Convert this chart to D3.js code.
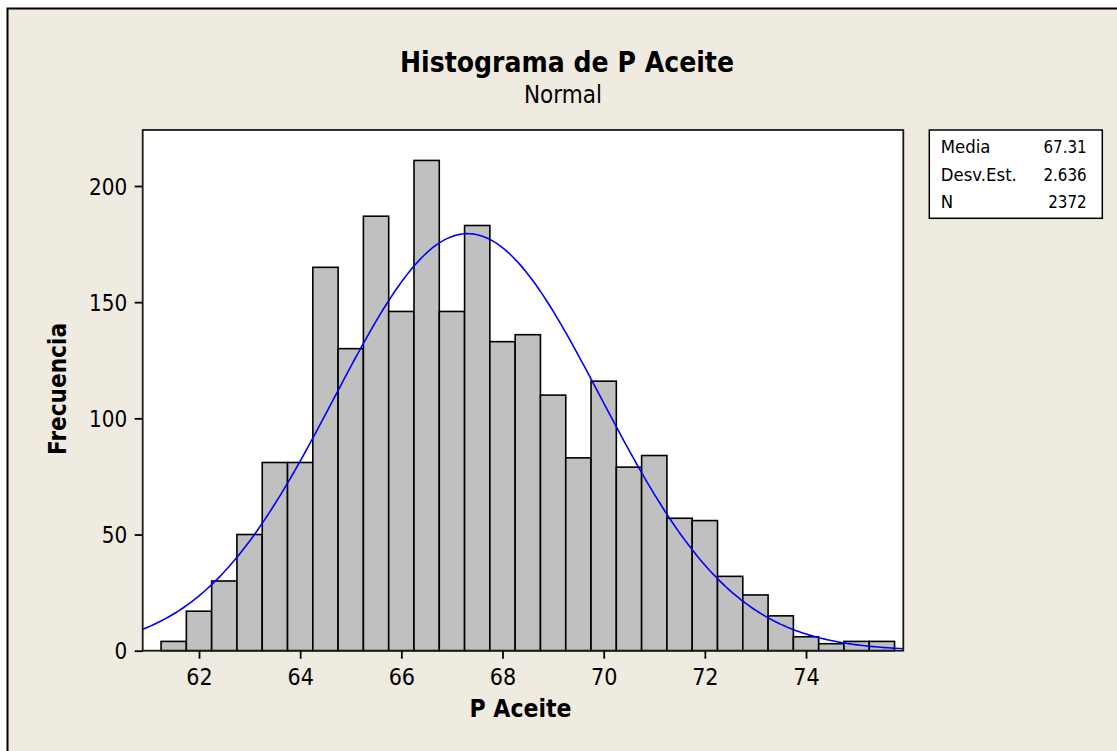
<!DOCTYPE html>
<html>
<head>
<meta charset="utf-8">
<script src="https://cdn.jsdelivr.net/npm/d3@7"></script>
<style>
  html, body { margin: 0; padding: 0; background: #ffffff; }
  svg { display: block; }
  text { font-family: "DejaVu Sans", Verdana, sans-serif; fill: #000; }
</style>
</head>
<body>
<svg id="chart" width="1117" height="751"></svg>
<script>
// Histogram bins of P Aceite (bin centres, width 0.5) and their frequencies
const binCenters = [61.5, 62, 62.5, 63, 63.5, 64, 64.5, 65, 65.5, 66, 66.5, 67, 67.5, 68,
                    68.5, 69, 69.5, 70, 70.5, 71, 71.5, 72, 72.5, 73, 73.5, 74, 74.5, 75, 75.5];
const counts = [4, 17, 30, 50, 81, 81, 165, 130, 187, 146, 211, 146, 183, 133,
                136, 110, 83, 116, 79, 84, 57, 56, 32, 24, 15, 6, 3, 4, 4];
const binWidth = 0.5;

// Summary statistics shown in the side box
const statLabels = ["Media", "Desv.Est.", "N"];
const statValues = ["67.31", "2.636", "2372"];
const mean = 67.31, sd = 2.636, n = 2372;

// Axis ticks
const xTicks = [62, 64, 66, 68, 70, 72, 74];
const yTicks = [0, 50, 100, 150, 200];

const titleText = "Histograma de P Aceite";
const subtitleText = "Normal";
const xLabel = "P Aceite";
const yLabel = "Frecuencia";

// ---- layout ----
const svg = d3.select("#chart");
const plot = { left: 142.7, right: 903.3, top: 130, bottom: 650.7 };
const bg = "#EFEBE1";

// compress a text's glyphs horizontally to a given width
function fitWidth(sel, width) {
  sel.attr("textLength", width).attr("lengthAdjust", "spacingAndGlyphs");
}
function squeeze(sel, ratio) {
  sel.each(function () {
    const w = this.getComputedTextLength();
    d3.select(this).attr("textLength", w * ratio).attr("lengthAdjust", "spacingAndGlyphs");
  });
}

// outer frame
svg.append("rect")
  .attr("x", 7.5).attr("y", 8.5).attr("width", 1140).attr("height", 780)
  .attr("fill", bg).attr("stroke", "#000").attr("stroke-width", 2);

const x = d3.scaleLinear().domain([60.887, 75.923]).range([plot.left, plot.right]);
const y = d3.scaleLinear().domain([0, 224.1]).range([plot.bottom, plot.top]);

// plot background
svg.append("rect")
  .attr("x", plot.left).attr("y", plot.top)
  .attr("width", plot.right - plot.left).attr("height", plot.bottom - plot.top)
  .attr("fill", "#ffffff");

svg.append("defs").append("clipPath").attr("id", "plotClip")
  .append("rect")
  .attr("x", plot.left).attr("y", plot.top)
  .attr("width", plot.right - plot.left).attr("height", plot.bottom - plot.top);

// bars
svg.append("g").selectAll("rect")
  .data(binCenters.map((c, i) => ({ c, v: counts[i] })))
  .join("rect")
  .attr("x", d => x(d.c - binWidth / 2))
  .attr("width", d => x(d.c + binWidth / 2) - x(d.c - binWidth / 2))
  .attr("y", d => y(d.v))
  .attr("height", d => y(0) - y(d.v))
  .attr("fill", "#C0C0C0")
  .attr("stroke", "#000")
  .attr("stroke-width", 1.6);

// fitted normal curve scaled to counts
const scaleFactor = n * binWidth / (sd * Math.sqrt(2 * Math.PI));
const curvePts = d3.range(0, 301).map(i => {
  const xv = x.domain()[0] + (x.domain()[1] - x.domain()[0]) * i / 300;
  const z = (xv - mean) / sd;
  return [xv, scaleFactor * Math.exp(-0.5 * z * z)];
});
svg.append("path")
  .datum(curvePts)
  .attr("clip-path", "url(#plotClip)")
  .attr("fill", "none")
  .attr("stroke", "#0000FF")
  .attr("stroke-width", 1.6)
  .attr("d", d3.line().x(d => x(d[0])).y(d => y(d[1])));

// plot border
svg.append("rect")
  .attr("x", plot.left).attr("y", plot.top)
  .attr("width", plot.right - plot.left).attr("height", plot.bottom - plot.top)
  .attr("fill", "none").attr("stroke", "#1a1a1a").attr("stroke-width", 1.8);

// axes
const xAxis = svg.append("g")
  .attr("transform", `translate(0,${plot.bottom})`)
  .call(d3.axisBottom(x).tickValues(xTicks).tickSize(8).tickPadding(8).tickFormat(d3.format("d")));
const yAxis = svg.append("g")
  .attr("transform", `translate(${plot.left},0)`)
  .call(d3.axisLeft(y).tickValues(yTicks).tickSize(8).tickPadding(8).tickFormat(d3.format("d")));

[xAxis, yAxis].forEach(g => {
  g.select(".domain").remove();
  g.selectAll(".tick line").attr("stroke", "#000").attr("stroke-width", 1.8);
  g.selectAll(".tick text").attr("font-size", 23).attr("font-family", "DejaVu Sans").attr("fill", "#000");
});
xAxis.selectAll(".tick text").attr("dy", null).attr("y", 34);
yAxis.selectAll(".tick text").attr("dy", "0.35em").attr("x", -15.5);
squeeze(xAxis.selectAll(".tick text"), 0.9);
squeeze(yAxis.selectAll(".tick text"), 0.87);

// titles
svg.append("text")
  .attr("x", 567).attr("y", 71.7).attr("text-anchor", "middle")
  .attr("font-size", 27.5).attr("font-weight", "bold")
  .text(titleText).call(fitWidth, 334);
svg.append("text")
  .attr("x", 563).attr("y", 102.7).attr("text-anchor", "middle")
  .attr("font-size", 24)
  .text(subtitleText).call(fitWidth, 78);
svg.append("text")
  .attr("x", 520.5).attr("y", 717.3).attr("text-anchor", "middle")
  .attr("font-size", 24.5).attr("font-weight", "bold")
  .text(xLabel).call(fitWidth, 102);
svg.append("text")
  .attr("transform", "translate(65.5,389) rotate(-90)")
  .attr("text-anchor", "middle")
  .attr("font-size", 25.5).attr("font-weight", "bold")
  .text(yLabel).call(fitWidth, 132);

// statistics box
const box = { x: 929.3, y: 130, w: 173, h: 88.3 };
svg.append("rect")
  .attr("x", box.x).attr("y", box.y).attr("width", box.w).attr("height", box.h)
  .attr("fill", "#ffffff").attr("stroke", "#000").attr("stroke-width", 1.5);
const rows = svg.append("g").selectAll("g")
  .data(statLabels.map((l, i) => ({ l, v: statValues[i] })))
  .join("g")
  .attr("transform", (d, i) => `translate(0,${153.3 + i * 27.5})`);
rows.append("text")
  .attr("x", 940.7).attr("font-size", 18)
  .text(d => d.l).call(squeeze, 0.92);
rows.append("text")
  .attr("x", 1086.7).attr("text-anchor", "end").attr("font-size", 18)
  .text(d => d.v).call(squeeze, 0.84);
</script>
</body>
</html>
